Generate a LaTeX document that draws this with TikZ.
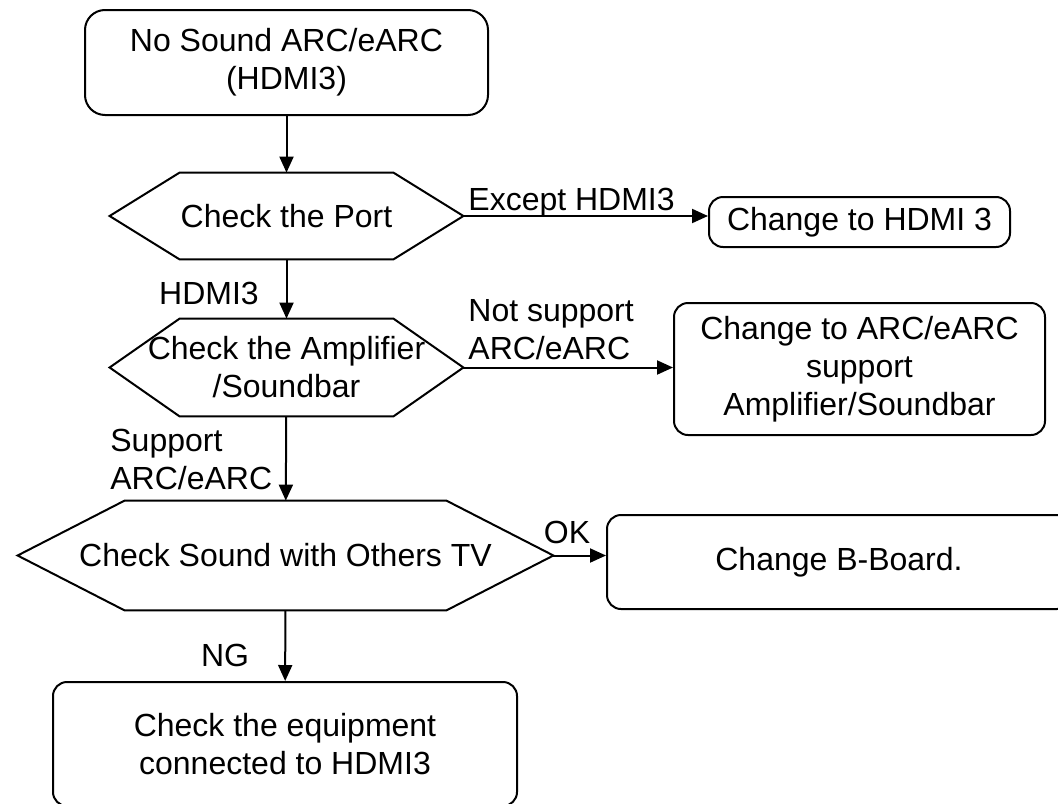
\documentclass[tikz,border=0pt]{standalone}
\usepackage{fontspec}
\setmainfont{Liberation Sans}
\usetikzlibrary{arrows.meta}

\tikzset{
	stepbox/.style={shape=rectangle, draw, line width=1pt, rounded corners=7pt, align=center, inner sep=0pt},
	checkbox/.style={shape=rectangle, align=center, inner sep=0pt},
	flow/.style={line width=1pt, -{Triangle[length=8pt, width=7pt]}},
	tag/.style={inner sep=0pt, align=left}
}
% outline of a check node: points left and right
\newcommand{\hexout}[2]{\draw[line width=1pt] (#1.west) -- ([xshift=#2]#1.north west) -- ([xshift=-#2]#1.north east) -- (#1.east) -- ([xshift=-#2]#1.south east) -- ([xshift=#2]#1.south west) -- cycle;}

\begin{document}
\begin{tikzpicture}[x=0.5pt, y=-0.5pt, font=\fontsize{16}{19}\selectfont]
	\useasboundingbox (0, 0) rectangle (1058, 803);
	\clip (0, 0) rectangle (1058, 803);
	% Paths, nodes and wires:
	\node[stepbox, rounded corners=10pt, minimum width=201.5pt, minimum height=52.5pt](start) at (286.5, 62.5){No Sound ARC/eARC\\(HDMI3)};
	\node[checkbox, minimum width=176.5pt, minimum height=43pt](port) at (286.5, 216){Check the Port};
	\node[checkbox, minimum width=176.5pt, minimum height=48.5pt](amp) at (286.5, 367.5){Check the Amplifier\\/Soundbar};
	\node[checkbox, minimum width=267.5pt, minimum height=54.5pt](sound) at (285.5, 555.5){Check Sound with Others TV};
	\hexout{port}{35pt}
	\hexout{amp}{35pt}
	\hexout{sound}{53.5pt}
	\node[stepbox, minimum width=150.5pt, minimum height=25pt](hdmi) at (859.5, 222){Change to HDMI 3};
	\node[stepbox, minimum width=185.5pt, minimum height=66pt](arc) at (859.5, 369){Change to ARC/eARC\\support\\Amplifier/Soundbar};
	\node[stepbox, minimum width=232pt, minimum height=47pt](board) at (839, 562){Change B-Board.};
	\node[stepbox, minimum width=232pt, minimum height=62pt](equip) at (285, 744){Check the equipment\\connected to HDMI3};
	\draw[flow] (start) -- (port);
	\draw[flow] (port) -- (amp);
	\draw[flow] (amp) -- (sound);
	\draw[flow] (sound) -- (equip);
	\draw[flow] (port.east) -- (port.east -| hdmi.west);
	\draw[flow] (amp.east) -- (amp.east -| arc.west);
	\draw[flow] (sound.east) -- (sound.east -| board.west);
	\node[tag](lhdmi) at (209, 293){HDMI3};
	\node[tag, anchor=west](lsup) at (110, 459){Support\\ARC/eARC};
	\node[tag](lng) at (225, 655){NG};
	\node[tag, anchor=base west](lexc) at (468, 210){Except HDMI3};
	\node[tag, anchor=west](lnot) at (468, 330){Not support\\ARC/eARC};
	\node[tag](lok) at (567, 532){OK};
\end{tikzpicture}
\end{document}
